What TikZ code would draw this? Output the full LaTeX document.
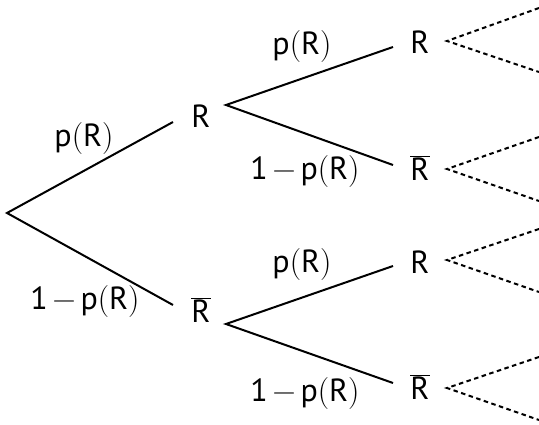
\documentclass[tikz,border=0pt]{standalone}
\usepackage{fontspec}
\setmainfont{PT Sans}
\newfontfamily\lmr{Latin Modern Roman}
\newcommand{\lp}{{\lmr(}}
\newcommand{\rp}{{\lmr)}}
\newcommand{\mn}{\hspace{0.15em}{\lmr −}\hspace{0.15em}}
\newcommand{\Rbar}{$\overline{\mbox{R}}$}
\usetikzlibrary{calc}
\begin{document}
\begin{tikzpicture}[x=1pt,y=-1pt,
  txt/.style={font=\fontsize{32}{38}\selectfont, inner sep=0pt},
  br/.style={line width=2pt},
  dsh/.style={line width=2pt, dash pattern=on 4.5pt off 3.5pt}]
\useasboundingbox (0,0) rectangle (539,425);
\coordinate (root) at (7,213);
\node[txt] (r1) at (201,116) {R};
\node[txt] (b1) at (201,310) {\Rbar};
\node[txt] (r2a) at (420,42) {R};
\node[txt] (b2a) at (420,168) {\Rbar};
\node[txt] (r2b) at (420,262) {R};
\node[txt] (b2b) at (420,387) {\Rbar};
% labels
\node[txt] (l1) at (84,139) {p\lp R\rp};
\node[txt] (l2) at (85,302) {1\mn p\lp R\rp};
\node[txt] (l3) at (302,47) {p\lp R\rp};
\node[txt] (l4) at (305,172) {1\mn p\lp R\rp};
\node[txt] (l5) at (302,265) {p\lp R\rp};
\node[txt] (l6) at (305,394) {1\mn p\lp R\rp};
% free ends of dashed lines
\coordinate (e1) at (539,8);
\coordinate (e2) at (539,72);
\coordinate (e3) at (539,137);
\coordinate (e4) at (539,201);
\coordinate (e5) at (539,229);
\coordinate (e6) at (539,292);
\coordinate (e7) at (539,357);
\coordinate (e8) at (539,420);
% branches
\draw[br] ($(r1)+(-28,6)$) -- (root) -- ($(b1)+(-28,-5)$);
\draw[br] ($(r2a)+(-27,5)$) -- ($(r1)+(25,-11)$) -- ($(b2a)+(-27,-3)$);
\draw[br] ($(r2b)+(-27,4)$) -- ($(b1)+(25,14)$) -- ($(b2b)+(-27,-4)$);
% dashed continuations
\draw[dsh] (e1) -- ($(r2a)+(27,-1)$) -- (e2);
\draw[dsh] (e3) -- ($(b2a)+(27,1)$) -- (e4);
\draw[dsh] (e5) -- ($(r2b)+(27,-2)$) -- (e6);
\draw[dsh] (e7) -- ($(b2b)+(27,1)$) -- (e8);
\end{tikzpicture}
\end{document}
